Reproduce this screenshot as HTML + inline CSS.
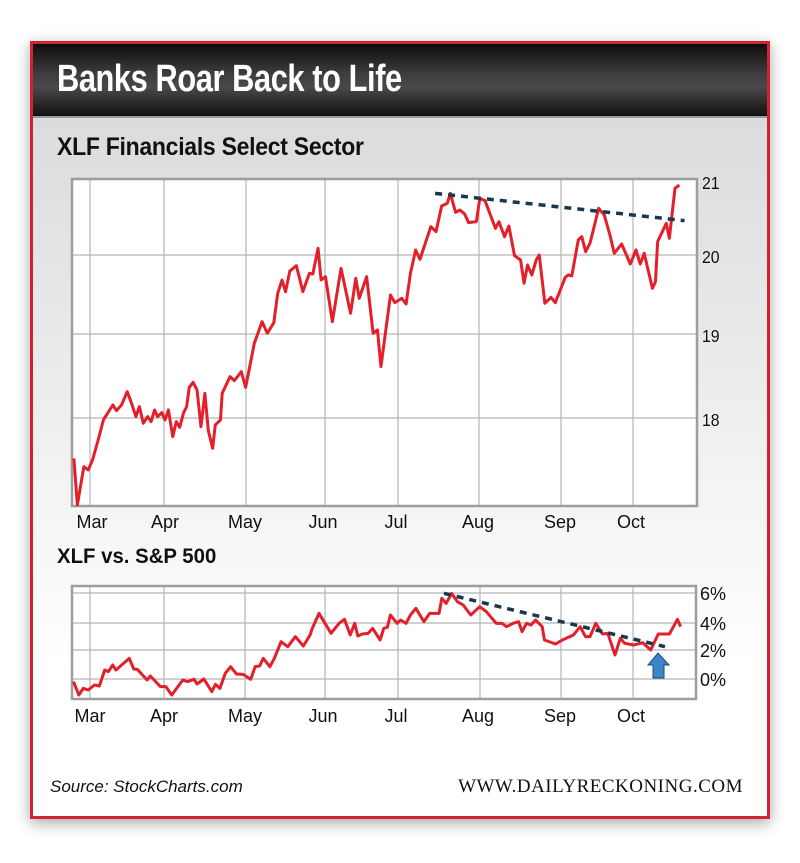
<!DOCTYPE html>
<html><head><meta charset="utf-8"><style>
html,body{margin:0;padding:0;background:#fff;width:800px;height:863px;overflow:hidden}
.frame{position:absolute;left:30px;top:41px;width:734px;height:772px;border:3px solid #cf2530;background:linear-gradient(#d6d7d9 0%,#eceded 45%,#fff 80%,#fff 100%);box-shadow:0 4px 14px rgba(0,0,0,.35)}
.hdr{position:absolute;left:0;top:0;width:734px;height:72px;background:linear-gradient(#0c0c0c 0%,#3c3c3e 40%,#49494b 60%,#111 100%);border-bottom:2px solid #9a9a9a}
.t{position:absolute;font-family:"Liberation Sans Narrow","Liberation Sans",sans-serif;font-weight:bold;white-space:nowrap;transform-origin:0 0}
</style></head><body>
<div class="frame"><div class="hdr"></div></div>
<div class="t" style="left:57px;top:58px;font-size:38px;color:#fff;letter-spacing:-0.5px;transform:scaleX(0.81)">Banks Roar Back to Life</div>
<div class="t" style="left:57px;top:133px;font-size:25px;color:#111;letter-spacing:-0.3px;transform:scaleX(0.92)">XLF Financials Select Sector</div>
<div class="t" style="left:57px;top:545px;font-size:21px;color:#111;transform:scaleX(0.97)">XLF vs. S&amp;P 500</div>
<svg width="800" height="863" style="position:absolute;left:0;top:0" font-family="Liberation Sans,sans-serif">
<rect x="72" y="179" width="625" height="327" fill="#fff"/>
<g stroke="#b5b5b5" stroke-width="1.2">
<line x1="90" y1="179" x2="90" y2="506"/><line x1="164" y1="179" x2="164" y2="506"/><line x1="246" y1="179" x2="246" y2="506"/><line x1="325" y1="179" x2="325" y2="506"/><line x1="398" y1="179" x2="398" y2="506"/><line x1="479" y1="179" x2="479" y2="506"/><line x1="561" y1="179" x2="561" y2="506"/><line x1="633" y1="179" x2="633" y2="506"/>
<line x1="72" y1="255" x2="697" y2="255"/><line x1="72" y1="334" x2="697" y2="334"/><line x1="72" y1="418" x2="697" y2="418"/>
</g>
<rect x="72" y="179" width="625" height="327" fill="none" stroke="#9d9d9d" stroke-width="2.5"/>
<g transform="translate(60,170) scale(0.4337,0.3333)">
<polyline fill="none" stroke="#e3202a" stroke-width="3" vector-effect="non-scaling-stroke" stroke-linejoin="round" points="32,865 40,1005 55,890 65,900 75,870 88,810 100,750 112,725 122,705 130,722 142,705 155,665 165,700 175,740 183,710 192,760 202,740 210,755 218,720 225,740 235,728 242,750 250,720 260,800 268,755 276,772 285,728 292,710 298,652 307,637 316,660 325,770 334,670 342,782 352,835 358,765 370,750 374,670 392,620 402,632 418,605 428,652 436,600 448,520 466,455 478,490 493,458 502,370 512,330 520,365 530,303 545,287 560,365 575,310 583,312 595,235 602,330 612,320 628,455 648,295 670,430 682,325 690,385 707,320 722,490 732,480 740,590 762,375 772,398 788,385 798,402 808,310 820,240 830,268 855,170 867,185 880,108 893,100 900,70 912,127 922,120 933,132 942,158 960,155 968,85 980,92 1004,175 1012,155 1025,200 1035,168 1048,257 1062,270 1070,340 1078,285 1088,315 1098,270 1105,255 1118,400 1132,382 1142,398 1165,322 1172,315 1180,318 1195,210 1203,200 1212,245 1222,220 1242,115 1255,135 1268,195 1278,250 1295,222 1315,282 1328,240 1338,282 1347,250 1366,355 1373,335 1378,215 1398,160 1405,205 1418,55 1428,45"/>
<line x1="865" y1="70" x2="1440" y2="152" stroke="#17384f" stroke-width="3.5" stroke-dasharray="7 6" vector-effect="non-scaling-stroke"/>
</g>
<g font-size="18" fill="#111">
<text x="702" y="189" transform="translate(702,0) scale(0.88,1) translate(-702,0)">21</text><text x="702" y="263" transform="translate(702,0) scale(0.88,1) translate(-702,0)">20</text><text x="702" y="342" transform="translate(702,0) scale(0.88,1) translate(-702,0)">19</text><text x="702" y="426" transform="translate(702,0) scale(0.88,1) translate(-702,0)">18</text>
<g text-anchor="middle"><text x="92" y="528">Mar</text><text x="165" y="528">Apr</text><text x="245" y="528">May</text><text x="323" y="528">Jun</text><text x="396" y="528">Jul</text><text x="478" y="528">Aug</text><text x="560" y="528">Sep</text><text x="631" y="528">Oct</text></g>
</g>
<rect x="72" y="586" width="624" height="113" fill="#fff"/>
<g stroke="#b5b5b5" stroke-width="1.2">
<line x1="90" y1="586" x2="90" y2="699"/><line x1="164" y1="586" x2="164" y2="699"/><line x1="245" y1="586" x2="245" y2="699"/><line x1="325" y1="586" x2="325" y2="699"/><line x1="398" y1="586" x2="398" y2="699"/><line x1="480" y1="586" x2="480" y2="699"/><line x1="561" y1="586" x2="561" y2="699"/><line x1="633" y1="586" x2="633" y2="699"/>
<line x1="72" y1="593" x2="696" y2="593"/><line x1="72" y1="623" x2="696" y2="623"/><line x1="72" y1="650" x2="696" y2="650"/><line x1="72" y1="679" x2="696" y2="679"/>
</g>
<rect x="72" y="586" width="624" height="113" fill="none" stroke="#9d9d9d" stroke-width="2.5"/>
<g transform="translate(40,570) scale(0.4464,0.3333)">
<polyline fill="none" stroke="#e3202a" stroke-width="3" vector-effect="non-scaling-stroke" stroke-linejoin="round" points="75,335 87,375 97,355 108,360 122,345 133,348 145,300 153,305 163,285 170,300 200,265 210,297 218,298 240,330 247,318 270,350 282,350 295,375 320,330 330,335 345,328 352,342 367,327 385,365 393,343 403,355 415,310 427,290 440,312 455,313 472,328 482,290 492,288 500,265 515,290 525,265 540,215 555,230 572,200 590,228 605,195 610,175 625,130 652,190 670,160 682,148 695,195 705,160 712,198 722,192 735,190 745,175 762,210 770,175 778,172 785,135 800,160 808,150 820,160 830,135 842,115 860,155 873,130 878,130 894,130 900,85 910,100 922,70 935,95 948,105 965,135 985,110 1000,125 1022,160 1035,160 1045,170 1060,160 1072,155 1080,185 1090,160 1100,165 1110,150 1125,170 1130,210 1155,222 1170,210 1195,195 1210,170 1222,200 1232,200 1245,160 1260,192 1272,190 1288,255 1300,205 1310,220 1330,225 1350,218 1368,240 1385,192 1410,192 1428,148 1435,170"/>
<line x1="905" y1="70" x2="1400" y2="230" stroke="#17384f" stroke-width="3.5" stroke-dasharray="7 6" vector-effect="non-scaling-stroke"/>
</g>
<polygon points="658,653 669,665 664,665 664,678 653,678 653,665 648,665" fill="#3b86c8" stroke="#1d4a78" stroke-width="1"/>
<g font-size="18" fill="#111">
<text x="700" y="600">6%</text><text x="700" y="630">4%</text><text x="700" y="657">2%</text><text x="700" y="686">0%</text>
<g text-anchor="middle"><text x="90" y="722">Mar</text><text x="164" y="722">Apr</text><text x="245" y="722">May</text><text x="323" y="722">Jun</text><text x="396" y="722">Jul</text><text x="478" y="722">Aug</text><text x="560" y="722">Sep</text><text x="631" y="722">Oct</text></g>
</g>
<text x="50" y="792" font-size="17" font-style="italic" fill="#111">Source: StockCharts.com</text>
<text x="743" y="792" font-size="19" fill="#111" text-anchor="end" font-family="Liberation Serif,serif" letter-spacing="0.5">WWW.DAILYRECKONING.COM</text>
</svg>
</body></html>
